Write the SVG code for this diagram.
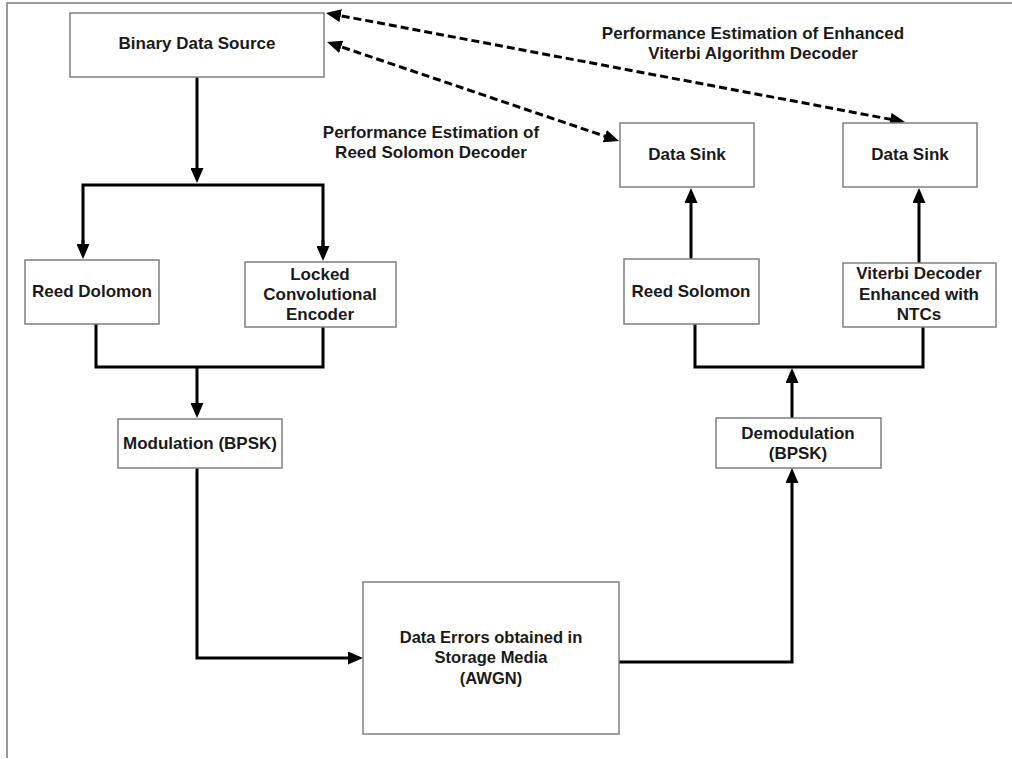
<svg xmlns="http://www.w3.org/2000/svg" width="1012" height="759" viewBox="0 0 1012 759">
<style>
.box{fill:#fff;stroke:#7f7f7f;stroke-width:1.5}
.t{font-family:"Liberation Sans",Arial,sans-serif;font-weight:bold;font-size:17px;fill:#1a1a1a;text-anchor:middle}
.c{fill:none;stroke:#000;stroke-width:3}
.d{fill:none;stroke:#000;stroke-width:3;stroke-dasharray:8 4}
.frame{stroke:#999;stroke-width:2;fill:none}
</style>
<defs>
<marker id="ah" viewBox="0 0 15 13" refX="11" refY="6.5" markerWidth="15" markerHeight="13" markerUnits="userSpaceOnUse" orient="auto-start-reverse">
<path d="M0,0 L15,6.5 L0,13 z" fill="#000"/>
</marker>
</defs>
<rect width="1012" height="759" fill="#fff"/>
<path class="frame" d="M7,758 L7,3 L1012,3"/>
<g id="connectors">
<line class="c" x1="197" y1="77" x2="197" y2="179" marker-end="url(#ah)"/>
<polyline class="c" points="83,250 83,185 323,185 323,250"/>
<line class="c" x1="83" y1="240" x2="83" y2="255" marker-end="url(#ah)"/>
<line class="c" x1="323" y1="240" x2="323" y2="257" marker-end="url(#ah)"/>
<polyline class="c" points="96,324 96,367 323,367 323,327"/>
<line class="c" x1="197" y1="367" x2="197" y2="414" marker-end="url(#ah)"/>
<polyline class="c" points="197,468 197,658 359,658" marker-end="url(#ah)"/>
<polyline class="c" points="619,662 792,662 792,472" marker-end="url(#ah)"/>
<polyline class="c" points="695,324 695,367 923,367 923,327"/>
<line class="c" x1="792" y1="418" x2="792" y2="372" marker-end="url(#ah)"/>
<line class="c" x1="691" y1="259" x2="691" y2="192" marker-end="url(#ah)"/>
<line class="c" x1="919" y1="263" x2="919" y2="192" marker-end="url(#ah)"/>
<line class="d" x1="330.8" y1="43.3" x2="615.2" y2="139.7" marker-start="url(#ah)" marker-end="url(#ah)"/>
<line class="d" x1="329.9" y1="13.7" x2="901.1" y2="121.3" marker-start="url(#ah)" marker-end="url(#ah)"/>
</g>
<g id="label-viterbi">
<text class="t" x="753" y="39">Performance Estimation of Enhanced</text>
<text class="t" x="753" y="59">Viterbi Algorithm Decoder</text>
</g>
<g id="label-rs">
<text class="t" x="431" y="138">Performance Estimation of</text>
<text class="t" x="431" y="158">Reed Solomon Decoder</text>
</g>
<g id="binary-source">
<rect class="box" x="70" y="13" width="254" height="64"/>
<text class="t" x="197" y="49">Binary Data Source</text>
</g>
<g id="reed-dolomon">
<rect class="box" x="25" y="260" width="134" height="64"/>
<text class="t" x="92" y="297">Reed Dolomon</text>
</g>
<g id="locked-conv">
<rect class="box" x="245" y="262" width="151" height="65"/>
<text class="t" x="320" y="280">Locked</text>
<text class="t" x="320" y="300">Convolutional</text>
<text class="t" x="320" y="320">Encoder</text>
</g>
<g id="modulation">
<rect class="box" x="118" y="419" width="164" height="49"/>
<text class="t" x="200" y="449">Modulation (BPSK)</text>
</g>
<g id="awgn">
<rect class="box" x="363" y="582" width="256" height="152"/>
<text class="t" x="491" y="643" style="font-size:16.5px">Data Errors obtained in</text>
<text class="t" x="491" y="663" style="font-size:16.5px">Storage Media</text>
<text class="t" x="491" y="684" style="font-size:16.5px">(AWGN)</text>
</g>
<g id="demodulation">
<rect class="box" x="716" y="418" width="165" height="50"/>
<text class="t" x="798" y="439">Demodulation</text>
<text class="t" x="798" y="459">(BPSK)</text>
</g>
<g id="reed-solomon">
<rect class="box" x="624" y="259" width="135" height="65"/>
<text class="t" x="691" y="297">Reed Solomon</text>
</g>
<g id="viterbi">
<rect class="box" x="843" y="263" width="153" height="64"/>
<text class="t" x="919" y="279">Viterbi Decoder</text>
<text class="t" x="919" y="300">Enhanced with</text>
<text class="t" x="919" y="320">NTCs</text>
</g>
<g id="data-sink-1">
<rect class="box" x="620" y="123" width="134" height="64"/>
<text class="t" x="687" y="160">Data Sink</text>
</g>
<g id="data-sink-2">
<rect class="box" x="843" y="123" width="134" height="64"/>
<text class="t" x="910" y="160">Data Sink</text>
</g>
</svg>
